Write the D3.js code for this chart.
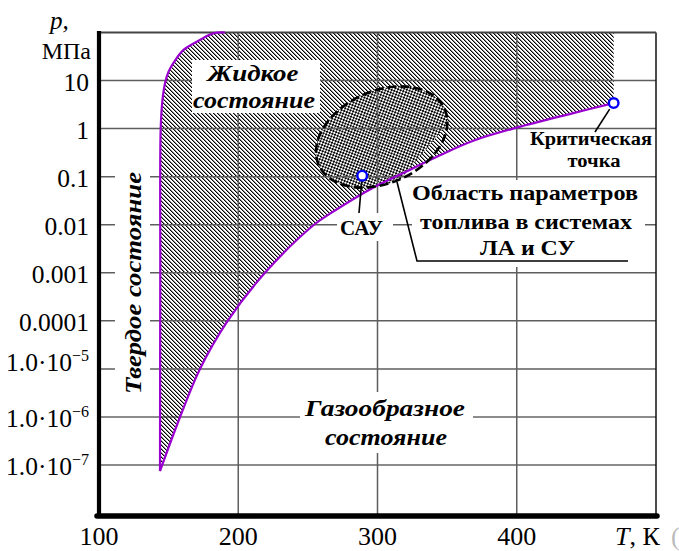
<!DOCTYPE html>
<html><head><meta charset="utf-8">
<script src="https://cdn.jsdelivr.net/npm/d3@7"></script>
<style>
html,body{margin:0;padding:0;background:#fff;}
svg{display:block;}
</style></head>
<body>
<svg id="chart" width="679" height="551"></svg>
<script>
// ---------- data ----------
const xTicks = [100, 200, 300, 400];
const xGrid = [200, 300, 400, 500];
const yTicks = [10, 1, 0.1, 0.01, 0.001, 0.0001, 1e-5, 1e-6, 1e-7];
const yTickText = ["10", "1", "0.1", "0.01", "0.001", "0.0001", "1.0·10", "1.0·10", "1.0·10"];
const yTickExp  = ["", "", "", "", "", "", "−5", "−6", "−7"];
// melting (solid–liquid) curve
const meltT = [143.8, 144.0, 144.3, 145.6, 147.4, 149.8, 153.4, 160.5, 172.5, 182.0, 190.5];
const meltP = [7.5e-8, 1e-3, 1, 4, 8.8, 15, 23, 43, 70, 96, 100];
// vapour pressure (liquid–gas) curve
const vapT = [143.8, 158.2, 172.5, 192.4, 219.2, 254.4, 265.9, 296.8, 321.2, 344.9, 368.8, 400, 440.6, 469.6];
const vapP = [7.5e-8, 1e-6, 1e-5, 1e-4, 1e-3, 0.01, 0.017, 0.059, 0.13, 0.28, 0.56, 1.05, 2.1, 3.4];
const critical = {T: 469.6, p: 3.4};
const sau = {T: 289, p: 0.105};
const region = {T: 303, p: 0.67, halfT: 49.5, halfDec: 0.96, angle: -24};
const pTop = 100;

const FONT = "Liberation Serif";

// ---------- scales ----------
const svg = d3.select("#chart").attr("font-family", FONT);
const x = d3.scaleLinear().domain([100, 500]).range([99, 656]);
const y = d3.scaleLog().domain([Math.pow(10, -8.06), 100]).range([516, 32.5]);
const X0 = x(100), X1 = x(500), Y0 = y(100), Y1 = 516;

const defs = svg.append("defs");
// single diagonal hatch "\" (pixel aligned)
const hatch = defs.append("pattern").attr("id", "hatch").attr("patternUnits", "userSpaceOnUse")
  .attr("width", 4).attr("height", 4);
for (let i = 0; i < 4; i++) {
  hatch.append("rect").attr("x", i).attr("y", i).attr("width", 1).attr("height", 1)
    .attr("fill", "#000").attr("shape-rendering", "crispEdges");
  hatch.append("rect").attr("x", (i + 1) % 4).attr("y", i).attr("width", 1).attr("height", 1)
    .attr("fill", "#8a8a8a").attr("shape-rendering", "crispEdges");
}
// crosshatch
const cross = defs.append("pattern").attr("id", "cross").attr("patternUnits", "userSpaceOnUse")
  .attr("width", 4).attr("height", 4);
cross.append("rect").attr("width", 4).attr("height", 4).attr("fill", "#fff");
for (let i = 0; i < 4; i++) {
  cross.append("rect").attr("x", i).attr("y", i).attr("width", 1).attr("height", 1)
    .attr("fill", "#000").attr("shape-rendering", "crispEdges");
  cross.append("rect").attr("x", 3 - i).attr("y", i).attr("width", 1).attr("height", 1)
    .attr("fill", "#000").attr("shape-rendering", "crispEdges");
}

const line = d3.line().x(d => x(d[0])).y(d => y(d[1])).curve(d3.curveCatmullRom);
const meltPts = meltT.map((t, i) => [t, meltP[i]]);
const vapPts = vapT.map((t, i) => [t, vapP[i]]);

const liquidPath = line(meltPts) +
  "L" + x(critical.T) + "," + y(pTop) +
  "L" + x(critical.T) + "," + y(critical.p) +
  line(vapPts.slice().reverse()).replace(/^M/, "L") + "Z";

defs.append("clipPath").attr("id", "liqclip").append("path").attr("d", liquidPath);

// hatched liquid region
svg.append("path").attr("d", liquidPath).attr("fill", "url(#hatch)");

// region ellipse (crosshatched, clipped to liquid)
const ecx = x(region.T), ecy = y(region.p);
const erx = x(region.T + region.halfT) - ecx;
const ery = ecy - y(region.p * Math.pow(10, region.halfDec));
svg.append("ellipse").attr("cx", ecx).attr("cy", ecy).attr("rx", erx).attr("ry", ery)
  .attr("transform", `rotate(${region.angle},${ecx},${ecy})`)
  .attr("fill", "url(#cross)").attr("clip-path", "url(#liqclip)");

// gridlines
const grid = svg.append("g");
yTicks.forEach(v => {
  const dark = v <= 1e-6;
  grid.append("line").attr("x1", X0).attr("x2", X1).attr("y1", y(v)).attr("y2", y(v))
    .attr("stroke", dark ? "#1a1a1a" : "#5e5e5e").attr("stroke-width", dark ? 1.1 : 1.5);
});
xGrid.forEach(v => {
  grid.append("line").attr("x1", x(v)).attr("x2", x(v)).attr("y1", Y0).attr("y2", Y1)
    .attr("stroke", v === 500 ? "#111" : "#5e5e5e").attr("stroke-width", 1.5);
});
grid.append("line").attr("x1", X0).attr("x2", X1).attr("y1", Y0).attr("y2", Y0)
  .attr("stroke", "#444").attr("stroke-width", 1.8);

// white label backgrounds
const boxes = [[192, 60, 320, 113], [115, 165, 150, 400], [300, 392, 473, 453],
               [337, 213, 393, 241], [412, 180, 645, 267]];
boxes.forEach(b => svg.append("rect").attr("x", b[0]).attr("y", b[1])
  .attr("width", b[2] - b[0]).attr("height", b[3] - b[1]).attr("fill", "#fff"));

// phase curves
svg.append("path").attr("d", line(meltPts)).attr("fill", "none")
  .attr("stroke", "#9a00cf").attr("stroke-width", 2.2);
svg.append("path").attr("d", line(vapPts)).attr("fill", "none")
  .attr("stroke", "#9a00cf").attr("stroke-width", 2.2);

// dashed ellipse outline
svg.append("ellipse").attr("cx", ecx).attr("cy", ecy).attr("rx", erx).attr("ry", ery)
  .attr("transform", `rotate(${region.angle},${ecx},${ecy})`)
  .attr("fill", "none").attr("stroke", "#000").attr("stroke-width", 2.6)
  .attr("stroke-dasharray", "9,4");

// axes
svg.append("line").attr("x1", X0).attr("x2", X0).attr("y1", 31).attr("y2", Y1)
  .attr("stroke", "#000").attr("stroke-width", 4.2);
svg.append("line").attr("x1", X0 - 2).attr("x2", X1 + 1).attr("y1", Y1).attr("y2", Y1)
  .attr("stroke", "#000").attr("stroke-width", 5.5).attr("stroke-linecap", "round");

// leaders
const lead = svg.append("g").attr("stroke", "#000").attr("stroke-width", 1.6).attr("fill", "none");
lead.append("line").attr("x1", x(critical.T) - 4).attr("y1", y(critical.p) + 6).attr("x2", 595).attr("y2", 132);
lead.append("line").attr("x1", x(sau.T) - 0.5).attr("y1", y(sau.p) + 6).attr("x2", 359).attr("y2", 213);
lead.append("path").attr("d", "M397,182 L417,261 L628,261");

// points
[critical, sau].forEach(d => svg.append("circle").attr("cx", x(d.T)).attr("cy", y(d.p)).attr("r", 4.8)
  .attr("fill", "#fff").attr("stroke", "#0000ff").attr("stroke-width", 2.4));

// tick labels
xTicks.forEach(v => svg.append("text").attr("x", x(v)).attr("y", 545).attr("text-anchor", "middle")
  .attr("font-family", FONT).attr("font-size", 26).text(v));
yTicks.forEach((v, i) => {
  const t = svg.append("text").attr("x", 89).attr("y", y(v) + 10 + (v === 1e-5 ? -8 : 0))
    .attr("text-anchor", "end").attr("font-family", FONT).attr("font-size", 25.5).text(yTickText[i]);
  if (yTickExp[i]) t.append("tspan").attr("dy", -10).attr("font-size", 16).text(yTickExp[i]);
});

// axis titles
svg.append("text").attr("x", 50).attr("y", 29).attr("font-family", FONT).attr("font-size", 25)
  .attr("font-style", "italic").text("p,");
svg.append("text").attr("x", 91).attr("y", 59).attr("text-anchor", "end").attr("font-family", FONT)
  .attr("font-size", 24).text("МПа");
const tt = svg.append("text").attr("x", 615).attr("y", 545).attr("font-family", FONT).attr("font-size", 26);
tt.append("tspan").attr("font-style", "italic").text("T");
tt.append("tspan").text(", К");
svg.append("text").attr("x", 671).attr("y", 545).attr("font-family", FONT).attr("font-size", 26)
  .attr("fill", "#bbb").text("(");

// region labels
function lab(txt, cx, by, size, w, opts = {}) {
  const t = svg.append("text").attr("x", cx).attr("y", by).attr("text-anchor", "middle")
    .attr("font-family", FONT).attr("font-size", size).attr("font-weight", "bold")
    .attr("font-style", opts.italic ? "italic" : "normal")
    .attr("textLength", w).attr("lengthAdjust", "spacingAndGlyphs").text(txt);
  if (opts.rotate) t.attr("transform", `rotate(-90,${cx},${by})`);
  return t;
}
lab("Жидкое", 253, 81, 23, 91, {italic: true});
lab("состояние", 254, 108, 23, 122, {italic: true});
lab("Твердое состояние", 141, 283, 23, 222, {italic: true, rotate: true});
lab("Газообразное", 385, 416, 23, 160, {italic: true});
lab("состояние", 386, 445, 23, 122, {italic: true});
lab("Критическая", 591, 145, 18.5, 122);
lab("точка", 594, 167, 18.5, 53);
lab("САУ", 361.5, 235, 20, 43);
lab("Область параметров", 525, 200, 21, 226);
lab("топлива в системах", 526, 229, 21, 212);
lab("ЛА и СУ", 527.5, 255, 21, 95);
</script>
</body></html>
